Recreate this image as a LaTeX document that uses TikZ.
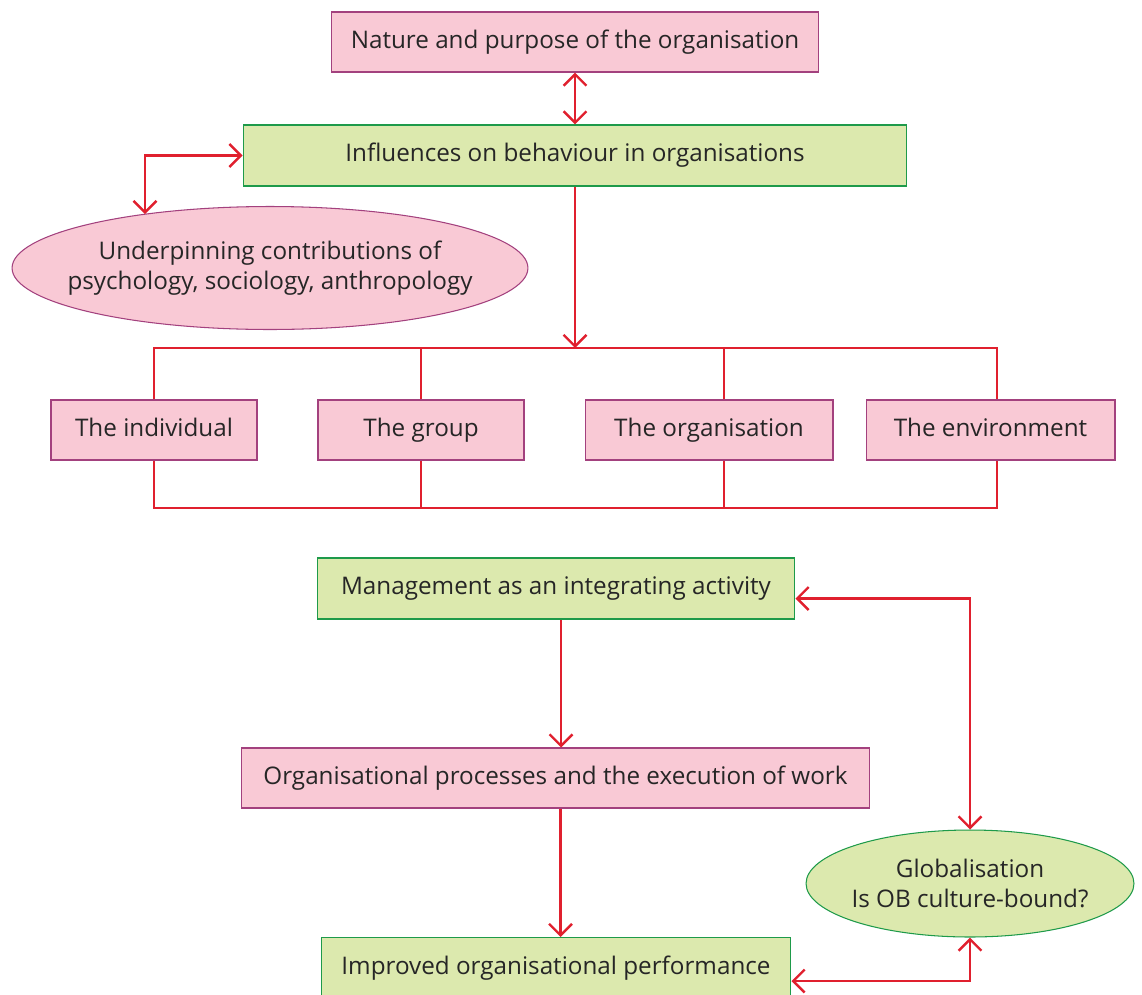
\documentclass[tikz,border=0pt]{standalone}
\usepackage{fontspec}
\setmainfont{Open Sans}
\usepackage{tikz}
\usetikzlibrary{arrows.meta,shapes.geometric}

\definecolor{boxpink}{HTML}{F9C9D5}
\definecolor{edgepink}{HTML}{A3417E}
\definecolor{boxgreen}{HTML}{DCE9AE}
\definecolor{edgegreen}{HTML}{1E9A4A}
\definecolor{linkred}{HTML}{E0202E}

\begin{document}
\begin{tikzpicture}[x=0.02cm, y=-0.02cm,
    every node/.style={font=\fontsize{13.8}{17}\selectfont, text=black!85, inner sep=0pt, align=center},
    pinkbox/.style={draw=edgepink, fill=boxpink, line width=0.6pt, minimum height=1.2cm, text height=0.95em, text depth=0.23em},
    greenbox/.style={draw=edgegreen, fill=boxgreen, line width=0.6pt, minimum height=1.22cm, text height=0.95em, text depth=0.23em},
    pinkoval/.style={ellipse, draw=edgepink, fill=boxpink, line width=0.6pt, inner xsep=-0.6cm},
    greenoval/.style={ellipse, draw=edgegreen, fill=boxgreen, line width=0.6pt, inner xsep=-0.6cm},
    link/.style={draw=linkred, line width=1.4pt, {Straight Barb[length=6.5pt, width=13pt]}-{Straight Barb[length=6.5pt, width=13pt]}},
    onelink/.style={draw=linkred, line width=1.4pt, -{Straight Barb[length=6.5pt, width=13pt]}},
    bus/.style={draw=linkred, line width=1.4pt}]
    \clip (0,0) rectangle (1142,994);
    \useasboundingbox (0,0) rectangle (1142,994);

    % Upper part
    \node[pinkbox, minimum width=9.74cm] (nature) at (575,42) {Nature and purpose of the organisation};
    \node[greenbox, minimum width=13.28cm] (influences) at (575,155.5) {Influences on behaviour in organisations};
    \node[pinkoval, minimum width=10.32cm, minimum height=2.46cm] (contrib) at (270,268)
      {Underpinning contributions of\\psychology, sociology, anthropology};

    \draw[link] (nature.south) -- (influences.north);
    \coordinate (contribtop) at (145,214);
    \draw[link] (contribtop) |- (influences.west);

    % The four levels
    \node[pinkbox, minimum width=4.12cm] (individual) at (154,430) {The individual};
    \node[pinkbox, minimum width=4.12cm] (group) at (421,430) {The group};
    \node[pinkbox, minimum width=4.96cm] (organisation) at (709,430) {The organisation};
    \node[pinkbox, minimum width=4.98cm] (environment) at (990.5,430) {The environment};

    \coordinate (bustop) at (575,348);
    \coordinate (busbot) at (575,508);
    \draw[onelink] (influences.south) -- (bustop);
    \draw[bus] (individual.north) |- (bustop) -| ([xshift=.13cm]environment.north);
    \draw[bus] (group.north) -- (group.north |- bustop);
    \draw[bus] ([xshift=.3cm]organisation.north) -- ([xshift=.3cm]organisation.north |- bustop);
    \draw[bus] (individual.south) |- (busbot) -| ([xshift=.13cm]environment.south);
    \draw[bus] (group.south) -- (group.south |- busbot);
    \draw[bus] ([xshift=.3cm]organisation.south) -- ([xshift=.3cm]organisation.south |- busbot);

    % Lower part
    \node[greenbox, minimum width=9.56cm] (management) at (556,588.5) {Management as an integrating activity};
    \node[pinkbox, minimum width=12.58cm] (processes) at (555.5,778) {Organisational processes and the execution of work};
    \node[greenbox, minimum width=9.4cm] (performance) at (556,968) {Improved organisational performance};
    \node[greenoval, minimum width=6.56cm, minimum height=2.14cm] (global) at (970,883.5)
      {Globalisation\\Is OB culture-bound?};

    \draw[onelink] ([xshift=.1cm]management.south) -- ([xshift=.1cm]management.south |- processes.north);
    \draw[onelink] ([xshift=.1cm]processes.south) -- ([xshift=.1cm]processes.south |- performance.north);
    \draw[link] ([yshift=-.2cm]management.east) -| (global.north);
    \draw[link] ([yshift=-.26cm]performance.east) -| (global.south);
\end{tikzpicture}
\end{document}
